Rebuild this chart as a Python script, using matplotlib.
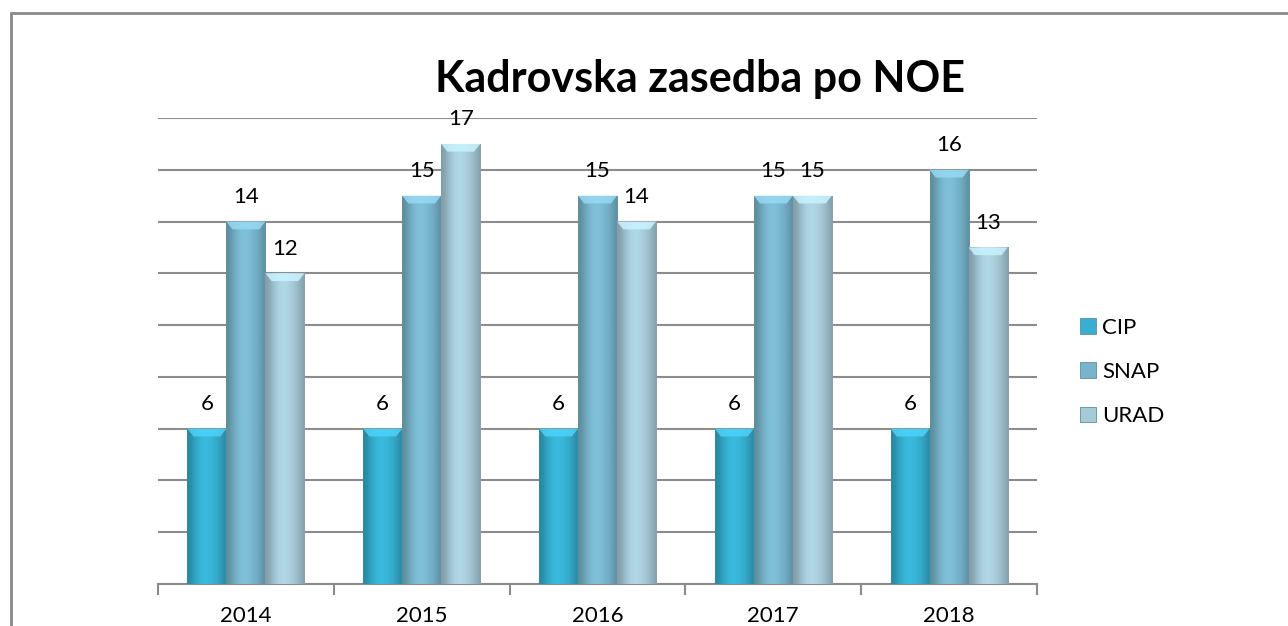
import numpy as np
import matplotlib
matplotlib.use("Agg")
from matplotlib import pyplot as plt
from matplotlib.colors import to_rgb
from matplotlib.patches import Polygon, Rectangle

plt.rcParams['font.family'] = ['Lato', 'DejaVu Sans']

# data
years = ["2014", "2015", "2016", "2017", "2018"]
series = ["CIP", "SNAP", "URAD"]
cip = [6, 6, 6, 6, 6]
snap = [14, 15, 15, 15, 16]
urad = [12, 17, 14, 15, 13]
colors = ["#36AFD0", "#78B5CC", "#A6CBD8"]

fig = plt.figure(figsize=(12.88, 6.26), dpi=100)
ax = fig.add_axes([158/1288, 1-584/626, (1037-158)/1288, (584-118)/626])

# outer frame like the excel chart area
fig.patches.append(Rectangle((11/1288, -0.1), 1.2, 1-13/626+0.1, transform=fig.transFigure,
                             fill=False, edgecolor="#888888", lw=2, zorder=0))

x = np.arange(len(years))
w = 0.222
profile = np.array([0.78, 0.86, 0.95, 1.02, 1.06, 1.06, 1.04, 1.0, 0.95, 0.88, 0.8])

for i, (vals, col) in enumerate(zip([cip, snap, urad], colors)):
    bars = ax.bar(x + (i-1)*w, vals, w, color=col, edgecolor="#5f8ea0", lw=0.6, zorder=3, label=series[i])
    base = np.array(to_rgb(col))
    grad = np.clip(base[None, :]*profile[:, None], 0, 1)[None, :, :]
    for b, v in zip(bars, vals):
        x0, x1 = b.get_x(), b.get_x()+b.get_width()
        im = ax.imshow(grad, extent=(x0, x1, 0, v), aspect='auto', zorder=3.5, interpolation='bicubic')
        im.set_clip_path(b)
        # top bevel
        d = 0.3
        bev = Polygon([(x0, v), (x1, v), (x1-0.035, v-d), (x0+0.035, v-d)],
                      closed=True, facecolor=np.clip(base*1.12+0.06, 0, 1), edgecolor='none', zorder=4, alpha=0.85)
        ax.add_patch(bev)
        ax.text(b.get_x()+w/2, v+0.95, str(v), ha='center', va='center', fontsize=16, color='black', zorder=5)

ax.set_xlim(-0.5, 4.5)
ax.set_ylim(0, 18)
ax.set_yticks(np.arange(0, 19, 2))
ax.set_yticklabels([])
ax.tick_params(axis='y', length=0)
ax.grid(axis='y', color="#8c8c8c", lw=1.5, zorder=0)
ax.set_axisbelow(True)

ax.set_xticks(np.arange(-0.5, 5, 1), minor=False)
ax.set_xticklabels([])
ax.set_xticks(x, minor=True)
ax.set_xticklabels(years, minor=True, fontsize=16)
ax.tick_params(axis='x', which='major', length=8, color="#8c8c8c", width=1.5)
ax.tick_params(axis='x', which='minor', length=0, pad=16)

for s in ['left', 'right', 'top']:
    ax.spines[s].set_visible(False)
ax.spines['bottom'].set_color("#8c8c8c")
ax.spines['bottom'].set_linewidth(1.5)

fig.text(700/1288, 1-79/626, "Kadrovska zasedba po NOE", ha='center', va='center',
         fontsize=31, fontweight='bold')

handles = [Rectangle((0, 0), 1, 1, facecolor=c, edgecolor="#5f8ea0", lw=0.6) for c in colors]
fig.legend(handles, series, loc='center left', bbox_to_anchor=(1060/1288, 1-372/626),
           frameon=False, fontsize=16, handlelength=0.7, handleheight=0.7,
           handletextpad=0.3, labelspacing=1.1)

plt.savefig("out.png", dpi=100)
plt.close()
